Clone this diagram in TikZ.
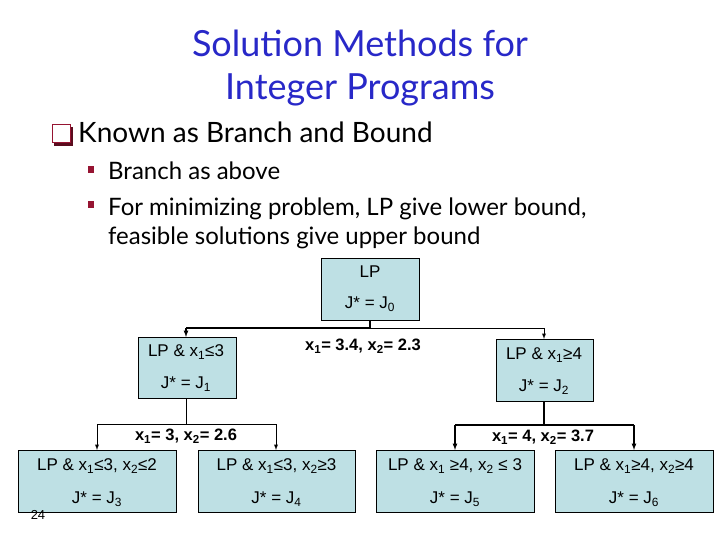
\documentclass[tikz,border=0pt]{standalone}
\usepackage{fontspec}
\setmainfont{Lato}
\newfontfamily\arialf{Liberation Sans}
\newcommand{\sbs}[1]{\textsubscript{#1}}
\definecolor{titleblue}{RGB}{40,40,200}
\definecolor{boxfill}{RGB}{190,224,228}
\definecolor{bulletred}{RGB}{150,20,50}
\begin{document}
\begin{tikzpicture}[x=1pt,y=-1pt,
  bx/.style={draw=black,fill=boxfill,line width=0.8pt},
  bt/.style={font=\arialf\fontsize{17}{20}\selectfont,inner sep=0},
  lab/.style={font=\arialf\bfseries\fontsize{16.5}{20}\selectfont,inner sep=0},
  conn/.style={line width=1.2pt,-latex},
  thin/.style={line width=0.9pt,-latex}]
\useasboundingbox (0,0) rectangle (720,540);
\fill[white] (0,0) rectangle (720,540);
\node[titleblue,font=\fontsize{36}{43}\selectfont,align=center,inner sep=0] (title) at (360,68) {Solution Methods for\\Integer Programs};
% bullets
\fill[bulletred!60!black] (54,127) rectangle (73,146);
\draw[bulletred,line width=1pt,fill=white] (52,125) rectangle (70,143);
\node[anchor=base west,inner sep=0,font=\fontsize{28}{32}\selectfont] (b1) at (78,143) {Known as Branch and Bound};
\fill[bulletred] (88,166) rectangle (94,173);
\node[anchor=base west,inner sep=0,font=\fontsize{24}{28}\selectfont] (b2) at (108,180) {Branch as above};
\fill[bulletred] (88,201) rectangle (94,208);
\node[anchor=base west,inner sep=0,font=\fontsize{24}{28}\selectfont] (b3) at (108,215) {For minimizing problem, LP give lower bound,};
\node[anchor=base west,inner sep=0,font=\fontsize{24}{28}\selectfont] (b4) at (108,244) {feasible solutions give upper bound};
% boxes
\draw[bx] (321,258) rectangle (419,320);
\node[bt] (r1) at (370,272) {LP};
\node[bt] (r2) at (370,304) {J* = J\sbs{0}};
\draw[bx] (138,337) rectangle (236,398);
\node[bt] (a1) at (186,352) {LP \& x\sbs{1}≤3};
\node[bt] (a2) at (186,384) {J* = J\sbs{1}};
\draw[bx] (496,339) rectangle (593,401);
\node[bt] (c1) at (544,355) {LP \& x\sbs{1}≥4};
\node[bt] (c2) at (544,387) {J* = J\sbs{2}};
\foreach \xa/\xb/\t/\j in {18/176/{LP \& x\sbs{1}≤3, x\sbs{2}≤2}/3, 198/355/{LP \& x\sbs{1}≤3, x\sbs{2}≥3}/4, 376/534/{LP \& x\sbs{1} ≥4, x\sbs{2} ≤ 3}/5, 555/713/{LP \& x\sbs{1}≥4, x\sbs{2}≥4}/6}{
  \draw[bx] (\xa,450) rectangle (\xb,512);
  \node[bt] at ({(\xa+\xb)/2},466) {\t};
  \node[bt] at ({(\xa+\xb)/2},499) {J* = J\sbs{\j}};
}
\node[font=\arialf\fontsize{13}{15}\selectfont,inner sep=0] (pg) at (38,515) {24};
% connectors
\coordinate (s0) at (370,320);
\coordinate (h0) at (370,328);
\draw[line width=1.5pt] (s0) -- (h0) -- (186,328);
\draw[conn] (186,328) -- (186,337);
\draw[line width=0.9pt] (h0) -- (544,328);
\draw[thin] (544,328) -- (544,339);
\draw[line width=1pt] (186,398) -- (186,424);
\draw[line width=1pt] (97,424) -- (276,424);
\draw[thin] (97,424) -- (97,450);
\draw[thin] (276,424) -- (276,450);
\draw[line width=1.4pt] (544,401) -- (544,425);
\draw[line width=1.4pt] (455,425) -- (634,425);
\draw[conn] (455,425) -- (455,450);
\draw[conn] (634,425) -- (634,450);
\node[lab] (l0) at (363,346) {x\sbs{1}= 3.4, x\sbs{2}= 2.3};
\node[lab] (l1) at (186,436) {x\sbs{1}= 3, x\sbs{2}= 2.6};
\node[lab] (l2) at (543,437) {x\sbs{1}= 4, x\sbs{2}= 3.7};
\end{tikzpicture}
\end{document}
